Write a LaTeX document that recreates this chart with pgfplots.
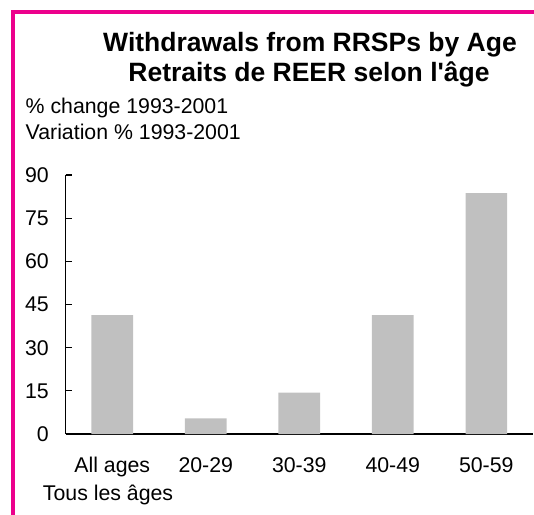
\documentclass[border=0pt]{standalone}
\usepackage{fontspec}
\setmainfont{Liberation Sans}[Ligatures=TeXOff]
\usepackage{pgfplots}
\pgfplotsset{compat=1.18}
\definecolor{mag}{RGB}{236,0,140}
\definecolor{bargray}{RGB}{192,192,192}
\begin{document}
\begin{tikzpicture}[x=1bp,y=1bp]
\path[use as bounding box] (0,0) rectangle (534,-515);
\draw[mag, line width=4bp] (12.5,-515) -- (12.5,-12) -- (534,-12);
\node[anchor=base, inner sep=0pt, font=\fontsize{26.5bp}{30bp}\selectfont\bfseries] at (310,-52) {Withdrawals from RRSPs by Age};
\node[anchor=base, inner sep=0pt, font=\fontsize{26.5bp}{30bp}\selectfont\bfseries] at (309,-82) {Retraits de REER selon l'âge};
\node[anchor=base west, inner sep=0pt, font=\fontsize{21.3bp}{25bp}\selectfont] at (25.5,-114) {\% change 1993-2001};
\node[anchor=base west, inner sep=0pt, font=\fontsize{21.3bp}{25bp}\selectfont] at (25.5,-140) {Variation \% 1993-2001};
\node[anchor=base west, inner sep=0pt, font=\fontsize{21.3bp}{25bp}\selectfont] at (42.7,-500) {Tous les âges};
\begin{axis}[
  at={(65.5bp,-434bp)}, anchor=south west,
  scale only axis, width=467.5bp, height=259bp,
  xmin=-0.5, xmax=4.5, ymin=0, ymax=90,
  axis lines=left,
  axis line style={-, line width=1.2bp, black},
  ytick={0,15,...,90},
  tick align=inside,
  major tick length=6bp,
  y tick style={black, line width=1.2bp},
  xtick={0,1,2,3,4},
  xticklabels={All ages,20-29,30-39,40-49,50-59},
  x tick style={draw=none},
  /pgf/number format/assume math mode=true,
  ticklabel style={font=\fontsize{21.3bp}{25bp}\selectfont},
  yticklabel style={anchor=east, inner sep=0pt, xshift=-16.5bp},
  xticklabel style={anchor=base, inner sep=0pt, yshift=-38bp},
  clip=false,
]
\addplot[ybar, bar width=0.444, fill=bargray, draw=none] coordinates {(0,41.3) (1,5.45) (2,14.35) (3,41.35) (4,83.7)};
\end{axis}
\end{tikzpicture}
\end{document}
